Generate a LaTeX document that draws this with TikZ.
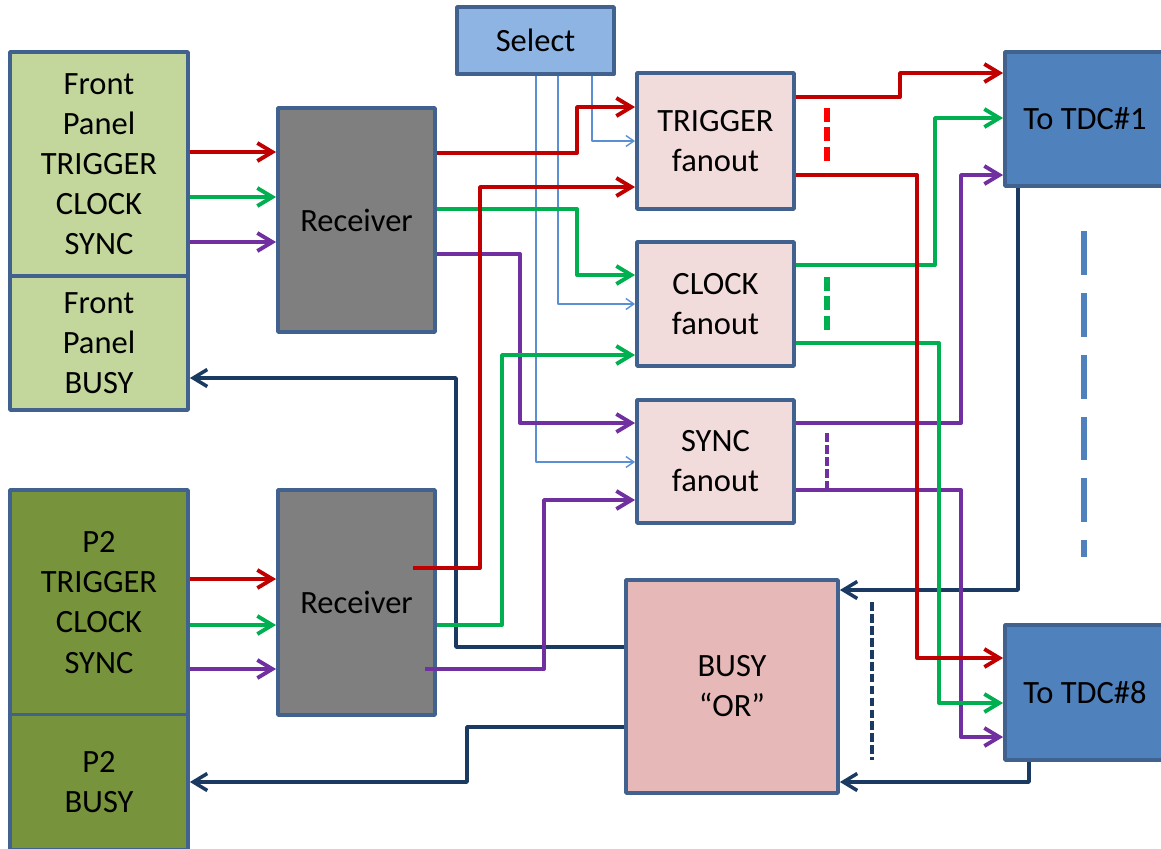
\documentclass[tikz,border=0pt]{standalone}
\usepackage{fontspec}
\setmainfont{Carlito}
\usetikzlibrary{arrows.meta}
\definecolor{boxline}{HTML}{41628F}
\definecolor{fpgreen}{HTML}{C3D69B}
\definecolor{ptgreen}{HTML}{77933C}
\definecolor{rxgray}{HTML}{7F7F7F}
\definecolor{selblue}{HTML}{8EB4E3}
\definecolor{fopink}{HTML}{F2DCDB}
\definecolor{orpink}{HTML}{E6B9B8}
\definecolor{tdcblue}{HTML}{4F81BD}
\definecolor{trigred}{HTML}{C00000}
\definecolor{clkgreen}{HTML}{00B050}
\definecolor{syncpurple}{HTML}{7030A0}
\definecolor{busynavy}{HTML}{1A3A62}
\definecolor{selline}{HTML}{5B8FD3}

\begin{document}
\begin{tikzpicture}[x=0.02cm, y=-0.02cm, line join=round,
  box/.style={draw=boxline, line width=2.2pt, inner sep=0pt, align=center,
    font=\fontsize{18.5}{22.8}\selectfont},
  sig/.style={line width=2.2pt, -{Straight Barb[length=3mm,width=3.6mm]}},
  busy/.style={busynavy, line width=2pt, -{Straight Barb[length=2.8mm,width=3.4mm]}},
  selwire/.style={selline, line width=0.8pt, -{Straight Barb[length=1.6mm,width=2.2mm]}}]
  \useasboundingbox (0,0) rectangle (1161,849);
  % panels on the left
  \node[box, fill=fpgreen, minimum width=3.56cm, minimum height=4.48cm] (fpsig) at (99,164)
    {Front\\Panel\\TRIGGER\\CLOCK\\SYNC};
  \node[box, fill=fpgreen, minimum width=3.56cm, minimum height=2.68cm] (fpbusy) at (99,343)
    {Front\\Panel\\BUSY};
  \node[box, fill=ptgreen, minimum width=3.56cm, minimum height=4.5cm] (ptsig) at (99,602.5)
    {P2\\TRIGGER\\CLOCK\\SYNC};
  \node[box, fill=ptgreen, minimum width=3.56cm, minimum height=2.7cm] (ptbusy) at (99,782)
    {P2\\BUSY};
  % receivers and select
  \node[box, fill=rxgray, minimum width=3.14cm, minimum height=4.48cm] (rxa) at (356.5,220) {Receiver};
  \node[box, fill=rxgray, minimum width=3.14cm, minimum height=4.5cm] (rxb) at (356.5,602.5) {Receiver};
  \node[box, fill=selblue, minimum width=3.14cm, minimum height=1.34cm] (sel) at (535.5,40.5) {Select};
  % fanouts
  \node[box, fill=fopink, minimum width=3.14cm, minimum height=2.72cm] (fotrig) at (715.5,141) {TRIGGER\\fanout};
  \node[box, fill=fopink, minimum width=3.14cm, minimum height=2.48cm] (foclk) at (715.5,304) {CLOCK\\fanout};
  \node[box, fill=fopink, minimum width=3.14cm, minimum height=2.46cm] (fosync) at (715.5,461.5) {SYNC\\fanout};
  \node[box, fill=orpink, minimum width=4.24cm, minimum height=4.26cm] (busyor) at (732,686.5) {BUSY\\“OR”};
  % TDC outputs
  \node[box, fill=tdcblue, minimum width=3.2cm, minimum height=2.68cm] (tdca) at (1085,119) {To TDC\#1};
  \node[box, fill=tdcblue, minimum width=3.2cm, minimum height=2.7cm] (tdch) at (1085,692.5) {To TDC\#8};
  \coordinate (rxbtrig) at (413,568);
  \coordinate (rxbsync) at (425,669);

  % inputs to receivers
  \draw[sig, trigred] (fpsig.east |- 0,152) -- (rxa.west |- 0,152);
  \draw[sig, clkgreen] (fpsig.east |- 0,197) -- (rxa.west |- 0,197);
  \draw[sig, syncpurple] (fpsig.east |- 0,242) -- (rxa.west |- 0,242);
  \draw[sig, trigred] (ptsig.east |- 0,579) -- (rxb.west |- 0,579);
  \draw[sig, clkgreen] (ptsig.east |- 0,625) -- (rxb.west |- 0,625);
  \draw[sig, syncpurple] (ptsig.east |- 0,669) -- (rxb.west |- 0,669);

  % select lines
  \draw[selwire] (sel.south -| 592,0) -- (592,141) -- (fotrig.west |- 0,141);
  \draw[selwire] (sel.south -| 558,0) -- (558,304) -- (foclk.west |- 0,304);
  \draw[selwire] (sel.south -| 536,0) -- (536,462) -- (fosync.west |- 0,462);

  % busy returns
  \draw[busy] (busyor.west |- 0,647) -- (456,647) -- (456,378) -- (fpbusy.east |- 0,378);
  \draw[busy] (busyor.west |- 0,727) -- (467,727) -- (467,782) -- (ptbusy.east |- 0,782);
  \draw[busy] (tdca.south -| 1018,0) -- (1018,590) -- (busyor.east |- 0,590);
  \draw[busy] (tdch.south -| 1029,0) -- (1029,782) -- (busyor.east |- 0,782);

  % receivers to fanouts
  \draw[sig, syncpurple] (rxa.east |- 0,254) -- (520,254) -- (520,423) -- (fosync.west |- 0,423);
  \draw[sig, clkgreen] (rxa.east |- 0,209) -- (577,209) -- (577,275) -- (foclk.west |- 0,275);
  \draw[sig, trigred] (rxa.east |- 0,153) -- (577,153) -- (577,107) -- (fotrig.west |- 0,107);
  \draw[sig, syncpurple] (rxbsync) -- (544,669) -- (544,500) -- (fosync.west |- 0,500);
  \draw[sig, clkgreen] (rxb.east |- 0,625) -- (502,625) -- (502,355) -- (foclk.west |- 0,355);
  \draw[sig, trigred] (rxbtrig) -- (480,568) -- (480,187) -- (fotrig.west |- 0,187);

  % fanouts to TDCs
  \draw[sig, syncpurple] (fosync.east |- 0,423) -- (961,423) -- (961,175) -- (tdca.west |- 0,175);
  \draw[sig, syncpurple] (fosync.east |- 0,490) -- (961,490) -- (961,737) -- (tdch.west |- 0,737);
  \draw[sig, clkgreen] (foclk.east |- 0,265) -- (935,265) -- (935,118) -- (tdca.west |- 0,118);
  \draw[sig, clkgreen] (foclk.east |- 0,343) -- (939,343) -- (939,703) -- (tdch.west |- 0,703);
  \draw[sig, trigred] (fotrig.east |- 0,97) -- (900,97) -- (900,73) -- (tdca.west |- 0,73);
  \draw[sig, trigred] (fotrig.east |- 0,175) -- (917,175) -- (917,658) -- (tdch.west |- 0,658);

  % dashed "more outputs" marks
  \draw[red, line width=3pt, dash pattern=on 8pt off 3pt] (827,108) -- (827,163);
  \draw[clkgreen, line width=3pt, dash pattern=on 8pt off 3pt] (827,277) -- (827,332);
  \draw[syncpurple, line width=2pt, dash pattern=on 5pt off 1.8pt] (827,433) -- (827,490);
  \draw[busynavy, line width=2pt, dash pattern=on 5pt off 1.8pt] (872,602) -- (872,760);
  \draw[tdcblue, line width=3pt, dash pattern=on 25pt off 10.2pt] (1084,231) -- (1084,557);
\end{tikzpicture}
\end{document}
